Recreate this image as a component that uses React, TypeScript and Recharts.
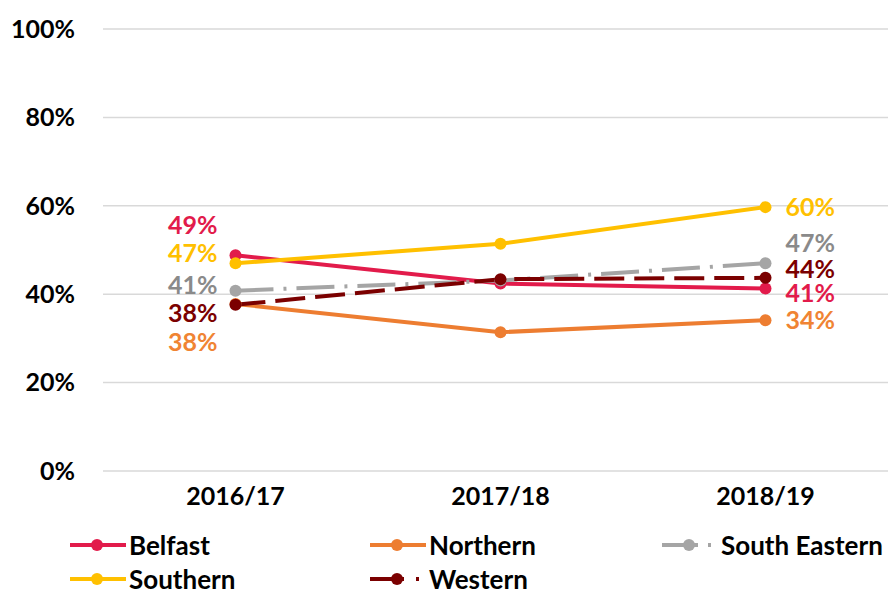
import {
  LineChart,
  Line,
  XAxis,
  YAxis,
  CartesianGrid,
  Legend,
  LabelList,
} from 'recharts';

const YEARS = ['2016/17', '2017/18', '2018/19'];
const Y_TICKS = [0, 20, 40, 60, 80, 100];

const BELFAST = [48.8, 42.4, 41.3];
const NORTHERN = [37.8, 31.4, 34.1];
const SOUTH_EASTERN = [40.8, 43.1, 47.0];
const SOUTHERN = [47.0, 51.4, 59.7];
const WESTERN = [37.6, 43.4, 43.7];

const FONT = 'Lato, "Open Sans", sans-serif';

const SERIES = [
  { key: 'belfast', name: 'Belfast', values: BELFAST, color: '#E21B4B', text: '#E21B4B', dash: undefined, legendDash: undefined, dy: [-30, 0, 5] },
  { key: 'northern', name: 'Northern', values: NORTHERN, color: '#ED7D31', text: '#F08433', dash: undefined, legendDash: undefined, dy: [38, 0, 0] },
  { key: 'southEastern', name: 'South Eastern', values: SOUTH_EASTERN, color: '#A5A5A5', text: '#8A8A8A', dash: '38 10 3 10', legendDash: '36 10 3 20', dy: [-6, 0, -20] },
  { key: 'southern', name: 'Southern', values: SOUTHERN, color: '#FFC000', text: '#FFC000', dash: undefined, legendDash: undefined, dy: [-10, 0, 0] },
  { key: 'western', name: 'Western', values: WESTERN, color: '#7B0000', text: '#7B0000', dash: '30 10', legendDash: '34 12 3 20', dy: [8, 0, -9] },
];

const data = YEARS.map((year, i) => {
  const row: Record<string, string | number> = { year };
  SERIES.forEach((s) => {
    row[s.key] = s.values[i];
  });
  return row;
});

function makeLabel(color: string, dy: number[]) {
  return (props: any) => {
    const { x, y, value, index } = props;
    if (index === 1) return null;
    const first = index === 0;
    return (
      <text
        x={first ? x - 18 : x + 20}
        y={y + dy[index]}
        dy="0.36em"
        textAnchor={first ? 'end' : 'start'}
        fill={color}
        fontFamily={FONT}
        fontWeight={700}
        fontSize={25}
      >
        {`${Math.round(value)}%`}
      </text>
    );
  };
}

const LEGEND_POS = [
  { left: 70, top: 12 },
  { left: 370, top: 12 },
  { left: 662, top: 12 },
  { left: 70, top: 46 },
  { left: 370, top: 46 },
];

function renderLegend() {
  return (
    <div style={{ position: 'relative', width: 888, height: 71 }}>
      {SERIES.map((s, i) => (
        <div
          key={s.key}
          style={{
            position: 'absolute',
            left: LEGEND_POS[i].left,
            top: LEGEND_POS[i].top,
            display: 'flex',
            alignItems: 'center',
            whiteSpace: 'nowrap',
            fontFamily: FONT,
            fontWeight: 700,
            fontSize: 26,
            color: '#000',
            lineHeight: '24px',
          }}
        >
          <svg width={56} height={16} style={{ marginRight: 3 }}>
            <line x1={0} y1={8} x2={56} y2={8} stroke={s.color} strokeWidth={4} strokeDasharray={s.legendDash} />
            <circle cx={27} cy={8} r={6} fill={s.color} />
          </svg>
          <span>{s.name}</span>
        </div>
      ))}
    </div>
  );
}

export default function App() {
  return (
    <div
      style={{
        position: 'absolute',
        left: 0,
        top: 0,
        width: 888,
        height: 592,
        overflow: 'hidden',
        background: '#fff',
      }}
    >
      <LineChart width={900} height={592} data={data} margin={{ top: 29, right: 2, left: 0, bottom: 0 }}>
        <CartesianGrid vertical={false} stroke="#D9D9D9" strokeWidth={1.5} xAxisId="cat" />
        <XAxis
          xAxisId="tk"
          type="number"
          domain={[0, 3]}
          ticks={[0, 1, 2, 3]}
          tick={false}
          tickSize={10}
          height={0}
          axisLine={{ stroke: '#D9D9D9', strokeWidth: 1.5 }}
          tickLine={{ stroke: '#D9D9D9', strokeWidth: 1.5 }}
        />
        <XAxis
          xAxisId="cat"
          dataKey="year"
          padding={{ left: 132.5, right: 132.5 }}
          axisLine={false}
          tickLine={false}
          height={50}
          tickMargin={10}
          tick={{ fill: '#000', fontSize: 25, fontWeight: 700, fontFamily: FONT }}
        />
        <YAxis
          domain={[0, 100]}
          ticks={Y_TICKS}
          width={103}
          axisLine={false}
          tickLine={false}
          tickMargin={22}
          tickFormatter={(v: number) => `${v}%`}
          tick={{ fill: '#000', fontSize: 25, fontWeight: 700, fontFamily: FONT }}
        />
        <Legend
          verticalAlign="bottom"
          height={71}
          content={renderLegend}
          wrapperStyle={{ left: 0, bottom: 0, width: 888, height: 71 }}
        />
        {SERIES.map((s) => (
          <Line
            key={s.key}
            xAxisId="cat"
            dataKey={s.key}
            name={s.name}
            stroke={s.color}
            strokeWidth={4}
            strokeDasharray={s.dash}
            dot={{ r: 6, fill: s.color, stroke: s.color, strokeWidth: 0 }}
            activeDot={false}
            isAnimationActive={false}
          >
            <LabelList dataKey={s.key} content={makeLabel(s.text, s.dy)} />
          </Line>
        ))}
      </LineChart>
    </div>
  );
}
